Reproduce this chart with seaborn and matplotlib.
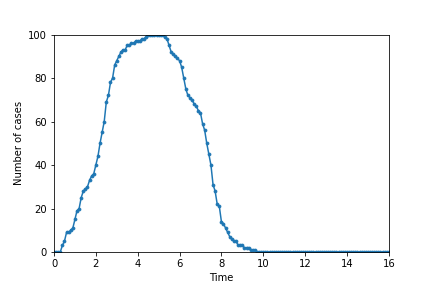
import numpy as np
import pandas as pd
import matplotlib
matplotlib.use("Agg")
import matplotlib.pyplot as plt
import seaborn as sns

# Time in steps of 0.1 from 0 to 16
time = np.round(np.arange(0, 161) * 0.1, 1)

cases_nonzero = [
    0, 0, 0, 0, 3, 5, 9, 9, 10, 11,
    15, 19, 20, 25, 28, 29, 30, 33, 35, 36,
    40, 44, 50, 55, 60, 69, 72, 78, 80, 86,
    88, 90, 92, 93, 93, 95, 95, 96, 96, 97,
    97, 97, 98, 98, 99, 100, 100, 100, 100, 100,
    100, 100, 100, 99, 98, 95, 92, 91, 90, 89,
    88, 85, 80, 75, 72, 71, 70, 68, 67, 65,
    64, 59, 56, 50, 45, 40, 31, 28, 22, 21,
    14, 13, 11, 9, 7, 6, 5, 5, 3, 3,
    3, 2, 2, 2, 1, 1, 1,
]
cases = cases_nonzero + [0] * (len(time) - len(cases_nonzero))

df = pd.DataFrame({"Time": time, "Cases": cases})

fig = plt.figure(figsize=(6, 4), dpi=72)
ax = fig.add_subplot(111)
fig.subplots_adjust(left=0.125, right=0.9, top=0.88, bottom=0.125)

sns.lineplot(data=df, x="Time", y="Cases", ax=ax, color="#1f77b4",
             marker=".", markersize=6, markeredgecolor="#1f77b4",
             linewidth=1.5, clip_on=True)

ax.set_xlim(0, 16)
ax.set_ylim(0, 100)
ax.set_xlabel("Time")
ax.set_ylabel("Number of cases")

fig.savefig("out.png", dpi=72)
